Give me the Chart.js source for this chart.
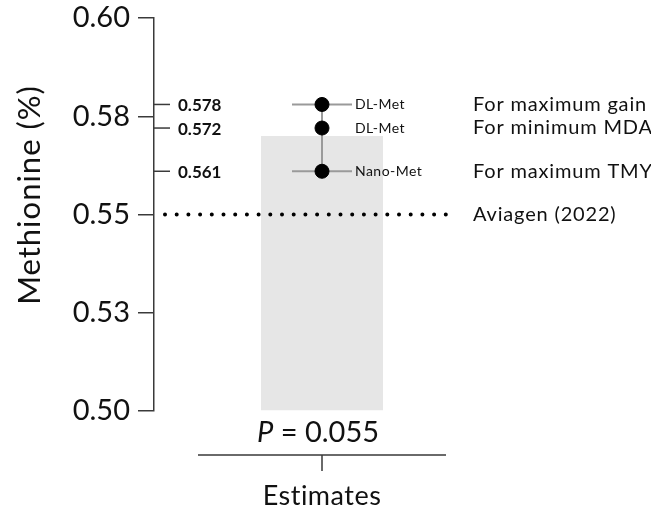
<!DOCTYPE html>
<html>
<head>
<meta charset="utf-8">
<script src="https://cdn.jsdelivr.net/npm/chart.js@4.4.1/dist/chart.umd.min.js"></script>
<style>
  html, body { margin: 0; padding: 0; background: #fff; }
  #wrap { width: 651px; height: 510px; }
</style>
</head>
<body>
<div id="wrap"><canvas id="myChart" width="651" height="510"></canvas></div>
<script>
const ctx = document.getElementById('myChart').getContext('2d');
const FONT = 'Lato, "Open Sans", sans-serif';

// data
const categories = ['Estimates'];
const barValues = [0.570];
const estimates = [0.578, 0.572, 0.561];
const estimateLabels = ['0.578', '0.572', '0.561'];
const sources = ['DL-Met', 'DL-Met', 'Nano-Met'];
const criteria = ['For maximum gain', 'For minimum MDA', 'For maximum TMY'];
const whiskers = [0.578, 0.561];
const referenceValue = 0.55;
const referenceLabel = 'Aviagen (2022)';
const yTicks = [0.50, 0.525, 0.55, 0.575, 0.60];
const yTickLabels = ['0.50', '0.53', '0.55', '0.58', '0.60'];
const pLabel = ['P', ' = 0.055'];
const yTitle = 'Methionine (%)';

const axisColor = '#3a3a3a';

// letter spacing so that text reaches a given width (the original font is wider)
function spacingFor(c, text, target) {
    c.letterSpacing = '0px';
    const w = c.measureText(text).width;
    return Math.max(0, (target - w) / text.length);
}

//draws the offset x axis, annotations and reference line
const extras = {
    id: 'extras',
    afterDatasetsDraw(chart) {
        const c = chart.ctx;
        const x = chart.scales.x;
        const y = chart.scales.y;
        const area = chart.chartArea;
        const cx = x.getPixelForValue(0);
        c.save();

        // reference line
        const ry = y.getPixelForValue(referenceValue);
        c.strokeStyle = '#000';
        c.lineWidth = 4;
        c.lineCap = 'round';
        c.setLineDash([0, 11.7]);
        c.beginPath();
        c.moveTo(area.left + 11, ry);
        c.lineTo(cx + 124, ry);
        c.stroke();
        c.setLineDash([]);
        c.lineCap = 'butt';

        // small ticks + values next to the y axis
        c.strokeStyle = axisColor;
        c.lineWidth = 1.5;
        c.fillStyle = '#111';
        c.font = 'bold 17px ' + FONT;
        c.textBaseline = 'middle';
        c.textAlign = 'left';
        estimates.forEach((v, i) => {
            const py = y.getPixelForValue(v);
            c.beginPath();
            c.moveTo(area.left, py);
            c.lineTo(area.left + 16, py);
            c.stroke();
            c.fillText(estimateLabels[i], area.left + 24, py + 1);
        });

        // source labels and criteria
        c.font = '14px ' + FONT;
        c.letterSpacing = spacingFor(c, sources[0], 50) + 'px';
        estimates.forEach((v, i) => {
            const py = y.getPixelForValue(v);
            c.fillText(sources[i], cx + 33, py);
        });
        c.font = '20px ' + FONT;
        c.letterSpacing = spacingFor(c, criteria[0], 174) + 'px';
        estimates.forEach((v, i) => {
            c.fillText(criteria[i], 473, y.getPixelForValue(v));
        });
        c.fillText(referenceLabel, 473, ry);
        c.letterSpacing = '0px';

        // offset x axis
        const axY = area.bottom + 44;
        c.beginPath();
        c.moveTo(cx - 124, axY);
        c.lineTo(cx + 124, axY);
        c.moveTo(cx, axY);
        c.lineTo(cx, axY + 16);
        c.stroke();

        c.font = '27px ' + FONT;
        c.letterSpacing = '0.5px';
        c.textAlign = 'center';
        c.fillText(categories[0], cx, axY + 41);
        c.letterSpacing = '0px';

        // P value
        c.font = 'italic 29px ' + FONT;
        const w1 = c.measureText(pLabel[0]).width;
        c.font = '29px ' + FONT;
        const w2 = c.measureText(pLabel[1]).width;
        let sx = cx - 4 - (w1 + w2) / 2;
        c.textAlign = 'left';
        c.font = 'italic 29px ' + FONT;
        c.fillText(pLabel[0], sx, area.bottom + 22);
        c.font = '29px ' + FONT;
        c.fillText(pLabel[1], sx + w1, area.bottom + 22);

        // y title
        c.translate(30, area.top + 177);
        c.rotate(-Math.PI / 2);
        c.textAlign = 'center';
        c.font = '31px ' + FONT;
        c.letterSpacing = '1px';
        c.fillText(yTitle, 0, 0);
        c.restore();
    }
};

const data = {
    labels: categories,
    datasets: [
        {
            type: 'line',
            data: estimates.map(v => ({ x: categories[0], y: v })),
            borderColor: '#9a9a9a',
            borderWidth: 2,
            pointRadius: 7,
            pointBackgroundColor: '#000',
            pointBorderColor: '#000',
            pointBorderWidth: 1,
            order: 1,
        },
        {
            type: 'line',
            data: whiskers.map(v => ({ x: categories[0], y: v })),
            showLine: false,
            pointStyle: 'line',
            pointRadius: 30,
            pointBorderColor: '#9a9a9a',
            pointBorderWidth: 2,
            order: 2,
        },
        {
            type: 'bar',
            data: barValues,
            base: 0.5,
            backgroundColor: '#e6e6e6',
            barPercentage: 0.363,
            categoryPercentage: 1,
            order: 3,
        },
    ],
};

const config = {
    type: 'bar',
    data: data,
    options: {
        responsive: false,
        animation: false,
        layout: { autoPadding: false, padding: { top: 18, right: 161, bottom: 99, left: 0 } },
        plugins: { legend: { display: false }, tooltip: { enabled: false } },
        scales: {
            x: { display: false },
            y: {
                min: 0.5,
                max: 0.6,
                afterBuildTicks: scale => { scale.ticks = yTicks.map(v => ({ value: v })); },
                afterFit: scale => {
                    scale.width = 154;
                    scale.paddingTop = 0;
                    scale.paddingBottom = 0;
                },
                grid: { drawOnChartArea: false, tickLength: 16, color: axisColor, lineWidth: 1.5 },
                border: { color: axisColor, width: 1.5 },
                ticks: {
                    padding: 8,
                    color: '#111',
                    font: { family: FONT, size: 29 },
                    callback: (value, index) => yTickLabels[index],
                },
            },
        },
    },
    plugins: [extras],
};

const myChart = new Chart(ctx, config);
</script>
</body>
</html>
